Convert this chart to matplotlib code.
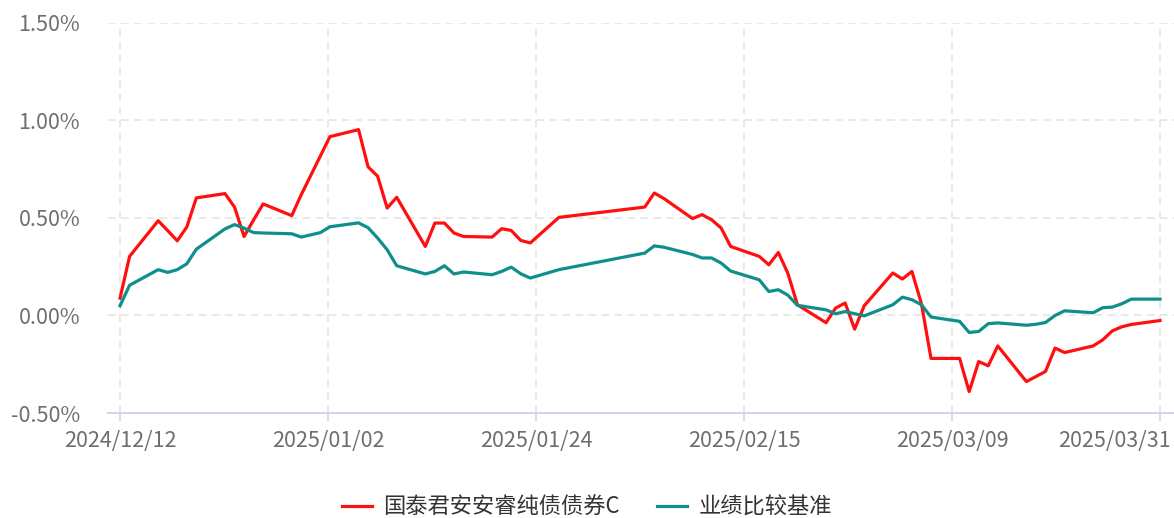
import matplotlib
matplotlib.use('Agg')
import matplotlib.pyplot as plt
import matplotlib.dates as mdates
import matplotlib.transforms as mtransforms
import numpy as np
import pandas as pd

plt.rcParams['font.family'] = ['Noto Sans CJK SC', 'DejaVu Sans']

dates = [
    '2024-12-12', '2024-12-13', '2024-12-16', '2024-12-17', '2024-12-18', '2024-12-19', '2024-12-20',
    '2024-12-23', '2024-12-24', '2024-12-25', '2024-12-26', '2024-12-27', '2024-12-30', '2024-12-31',
    '2025-01-02', '2025-01-03', '2025-01-06', '2025-01-07', '2025-01-08', '2025-01-09', '2025-01-10',
    '2025-01-13', '2025-01-14', '2025-01-15', '2025-01-16', '2025-01-17', '2025-01-20', '2025-01-21',
    '2025-01-22', '2025-01-23', '2025-01-24', '2025-01-27',
    '2025-02-05', '2025-02-06', '2025-02-07', '2025-02-10', '2025-02-11', '2025-02-12', '2025-02-13',
    '2025-02-14', '2025-02-17', '2025-02-18', '2025-02-19', '2025-02-20', '2025-02-21', '2025-02-24',
    '2025-02-25', '2025-02-26', '2025-02-27', '2025-02-28',
    '2025-03-03', '2025-03-04', '2025-03-05', '2025-03-06', '2025-03-07', '2025-03-10', '2025-03-11',
    '2025-03-12', '2025-03-13', '2025-03-14', '2025-03-17', '2025-03-18', '2025-03-19', '2025-03-20',
    '2025-03-21', '2025-03-24', '2025-03-25', '2025-03-26', '2025-03-27', '2025-03-28', '2025-03-31',
]

# 累计收益率 (%)
fund = [
    0.089, 0.303, 0.486, 0.435, 0.383, 0.454, 0.603, 0.625, 0.556, 0.405, 0.49, 0.572, 0.512, 0.62,
    0.818, 0.917, 0.953, 0.762, 0.714, 0.551, 0.606, 0.354, 0.474, 0.474, 0.423, 0.405, 0.402, 0.445,
    0.436, 0.385, 0.372, 0.503,
    0.556, 0.628, 0.60, 0.497, 0.517, 0.491, 0.449, 0.354, 0.303, 0.26, 0.323, 0.216, 0.055, -0.037,
    0.038, 0.064, -0.07, 0.05,
    0.218, 0.187, 0.226, 0.06, -0.22, -0.22, -0.39, -0.236, -0.258, -0.156, -0.339, -0.313, -0.287,
    -0.167, -0.19, -0.156, -0.125, -0.079, -0.058, -0.046, -0.026,
]

benchmark = [
    0.05, 0.155, 0.235, 0.221, 0.235, 0.265, 0.34, 0.444, 0.466, 0.448, 0.425, 0.423, 0.419, 0.402,
    0.425, 0.455, 0.475, 0.45, 0.397, 0.337, 0.255, 0.213, 0.226, 0.255, 0.213, 0.223, 0.209, 0.226,
    0.248, 0.214, 0.192, 0.235,
    0.32, 0.357, 0.35, 0.313, 0.295, 0.295, 0.269, 0.228, 0.183, 0.123, 0.132, 0.104, 0.052, 0.029,
    0.009, 0.02, 0.009, -0.002,
    0.055, 0.094, 0.081, 0.055, -0.008, -0.03, -0.087, -0.082, -0.042, -0.038, -0.05, -0.045, -0.036,
    0.0, 0.024, 0.014, 0.04, 0.043, 0.06, 0.084, 0.084,
]

labels = ['国泰君安安睿纯债债券C', '业绩比较基准']
y_ticks = [-0.5, 0.0, 0.5, 1.0, 1.5]

x = pd.to_datetime(dates)
xn = mdates.date2num(x)

fig = plt.figure(figsize=(11.74, 5.18), dpi=100)
ax = fig.add_axes([0.092, 0.2027, 0.908, 0.753])

ax.plot(x, fund, color='#ff0f0f', lw=2.3, label=labels[0], solid_joinstyle='round')
ax.plot(x, benchmark, color='#0f8f8c', lw=2.3, label=labels[1], solid_joinstyle='round')

ax.set_xlim(xn[0] - 1.26, xn[-1] + 1.47)
ax.set_ylim(y_ticks[0], y_ticks[-1])
ax.set_yticks(y_ticks)
ax.set_yticklabels([f'{v:.2f}%' for v in y_ticks])

ax.set_xticks(np.linspace(xn[0], xn[-1], 6))
ax.xaxis.set_major_formatter(mdates.DateFormatter('%Y/%m/%d'))

ax.grid(True, color='#e3e3e3', linestyle=(0, (5, 3.5)), linewidth=1.1)
ax.set_axisbelow(True)

for s in ['top', 'right', 'left']:
    ax.spines[s].set_visible(False)
ax.spines['bottom'].set_color('#cdd6ee')
ax.spines['bottom'].set_linewidth(1.4)

ax.tick_params(axis='y', length=0, pad=20, labelsize=15.5, labelcolor='#6e6e6e')
ax.tick_params(axis='x', length=6, width=1.2, color='#cdd6ee', pad=6,
               labelsize=15.5, labelcolor='#6e6e6e')

# 最后一个日期标签靠右对齐，避免被裁切
fig.canvas.draw()
last = ax.get_xticklabels()[-1]
last.set_horizontalalignment('right')
last.set_transform(last.get_transform() +
                   mtransforms.ScaledTranslation(0.11, 0, fig.dpi_scale_trans))

fig.legend(loc='center', bbox_to_anchor=(0.5, 0.021), ncol=2, frameon=False,
           fontsize=16, handlelength=1.35, handletextpad=0.5, columnspacing=1.7,
           labelcolor='#333333')

fig.savefig('out.png', dpi=100)
